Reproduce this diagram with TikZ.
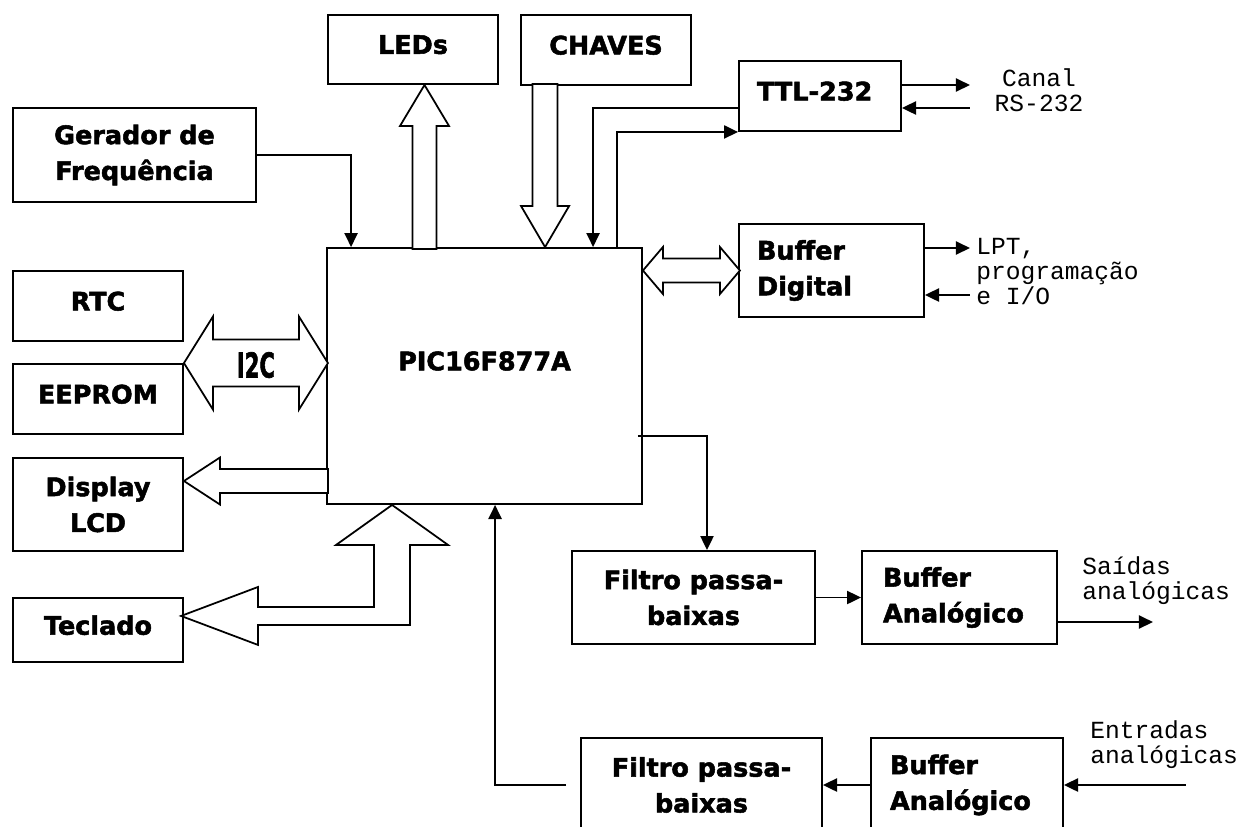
\documentclass[tikz,border=0pt]{standalone}
\usepackage{fontspec}
\setmainfont{DejaVu Sans}[BoldFeatures={FakeBold=2}]
\setmonofont{Liberation Mono}
\usepackage{graphicx}
\usetikzlibrary{arrows.meta,calc}

\begin{document}
\begin{tikzpicture}[x=0.02cm, y=-0.02cm,
  blk/.style={draw, line width=1.1pt, align=center, inner sep=0pt, font=\fontsize{14.5}{20.4}\selectfont\bfseries},
  one/.style={text depth=0.2cm},
  two/.style={},
  txt/.style={align=left, inner sep=0pt, font=\ttfamily\fontsize{14}{14.5}\selectfont},
  sig/.style={line width=1pt, -{Triangle[length=8pt,width=7.5pt]}},
  bus/.style={draw, line width=1pt, fill=white, line join=miter}]
\clip (0,0) rectangle (1244,826);

% blocos
\node[blk, minimum width=6.3cm, minimum height=5.12cm] (pic) at (484.5,376) {};
\node[font=\fontsize{14.5}{20.4}\selectfont\bfseries, inner sep=0pt] (piclbl) at (484.5,361) {PIC16F877A};
\node[blk, one, minimum width=3.4cm, minimum height=1.38cm] (leds) at (413,49.5) {LEDs};
\node[blk, one, minimum width=3.4cm, minimum height=1.4cm] (chaves) at (606,50) {CHAVES};
\node[blk, one, minimum height=1.4cm, text width=2.52cm, inner xsep=0.36cm, align=left] (ttl) at (820,96) {TTL-232};
\node[blk, minimum width=4.86cm, minimum height=1.88cm] (ger) at (134.5,155) {Gerador de\\Frequência};
\node[blk, minimum height=1.86cm, text width=2.98cm, inner xsep=0.36cm, align=left] (bufd) at (831.5,270.5) {Buffer\\Digital};
\foreach \nm/\txt/\y/\h/\st in {rtc/RTC/306/1.4/one, eeprom/EEPROM/399/1.4/one, lcd/{Display\\LCD}/504.5/1.86/two, tecl/Teclado/630/1.28/one}
  \node[blk, \st, minimum width=3.4cm, minimum height=\h cm] (\nm) at (98,\y) {\txt};
\node[blk, minimum width=4.86cm, minimum height=1.86cm] (filA) at (693.5,597.5) {Filtro passa-\\baixas};
\node[blk, minimum height=1.86cm, text width=3.06cm, inner xsep=0.42cm, align=left] (bufA) at (959.5,597.5) {Buffer\\Analógico};
\node[blk, minimum width=4.82cm, minimum height=1.88cm] (filB) at (701.5,785) {Filtro passa-\\baixas};
\node[blk, minimum height=1.88cm, text width=3.08cm, inner xsep=0.38cm, align=left] (bufB) at (967,785) {Buffer\\Analógico};

% textos externos
\node[txt, align=center] (canal) at (1039,90) {Canal\\RS-232};
\node[txt, anchor=west] (lpt) at (976,271.5) {LPT,\\programação\\e I/O};
\node[txt, anchor=west] (said) at (1082,580.5) {Saídas\\analógicas};
\node[txt, anchor=west] (entr) at (1090,744.5) {Entradas\\analógicas};

% barramentos
\draw[bus] ($(leds.south)+(11.5,0)$) -- ++(24.5,41) -- ++(-12.5,0) -- ++(0,123) -- ++(-24,0) -- ++(0,-123) -- ++(-12.5,0) -- cycle;
\draw[bus] ($(pic.north west)+(219,0)$) -- ++(24,-41) -- ++(-11.5,0) -- ++(0,-122) -- ++(-25,0) -- ++(0,122) -- ++(-11.5,0) -- cycle;
\draw[bus] (pic.east |- bufd.west) -- ++(20,-23.5) -- ++(0,11.5) -- ++(57,0) -- ++(0,-11.5) -- ++(20,23.5) -- ++(-20,23.5) -- ++(0,-11.5) -- ++(-57,0) -- ++(0,11.5) -- cycle;
\draw[bus] (eeprom.north east) -- ++(29,-46.5) -- ++(0,23) -- ++(86,0) -- ++(0,-23) -- ++(29,46.5) -- ++(-29,46.5) -- ++(0,-23) -- ++(-86,0) -- ++(0,23) -- cycle;
\node[font=\fontsize{19.5}{19.5}\selectfont\bfseries, inner sep=0pt] (i2c) at ($(eeprom.north east)+(72,2)$) {\scalebox{0.62}[1]{I2C}};
\draw[bus] ($(lcd.east)+(0,-23.5)$) -- ++(36,-23.5) -- ++(0,11.5) -- ++(108,0) -- ++(0,24) -- ++(-108,0) -- ++(0,11.5) -- cycle;
\draw[bus] ($(pic.south west)+(66,0)$) -- ++(56,40) -- ++(-38,0) -- ++(0,80) -- ++(-152,0) -- ++(0,20) -- ++(-77,-29) -- ++(77,-29) -- ++(0,20) -- ++(116,0) -- ++(0,-62) -- ++(-38,0) -- cycle;

% sinais
\coordinate (gin) at ($(pic.north west)+(25,0)$);
\draw[sig] (ger.east) -| (gin);
\coordinate (tin) at ($(pic.north west)+(267,0)$);
\coordinate (tout) at ($(pic.north west)+(291,0)$);
\draw[sig] ($(ttl.west)+(0,12)$) -| (tin);
\draw[sig] (tout) |- (ttl.south west);
\coordinate (rs) at ($(ttl.east)+(68,0)$);
\draw[sig] ($(ttl.east)+(0,-11)$) -- ($(rs)+(0,-11)$);
\draw[sig] ($(rs)+(0,12)$) -- ($(ttl.east)+(0,12)$);
\coordinate (lp) at ($(bufd.east)+(45,0)$);
\draw[sig] ($(bufd.east)+(0,-22.5)$) -- ($(lp)+(0,-22.5)$);
\draw[sig] ($(lp)+(0,24.5)$) -- ($(bufd.east)+(0,24.5)$);
\coordinate (pout) at ($(pic.east)+(-5,60)$);
\draw[sig] (pout) -| ($(filA.north)+(13.5,0)$);
\draw[sig] (filA.east) -- (bufA.west);
\coordinate (aout) at ($(bufA.east)+(95,24.5)$);
\draw[sig] ($(bufA.east)+(0,24.5)$) -- (aout);
\coordinate (ain) at ($(bufB.east)+(122,0)$);
\draw[sig] (ain) -- (bufB.east);
\draw[sig] (bufB.west) -- (filB.east);
\draw[sig] ($(filB.west)+(-14,0)$) -| ($(pic.south west)+(169,0)$);
\end{tikzpicture}
\end{document}
